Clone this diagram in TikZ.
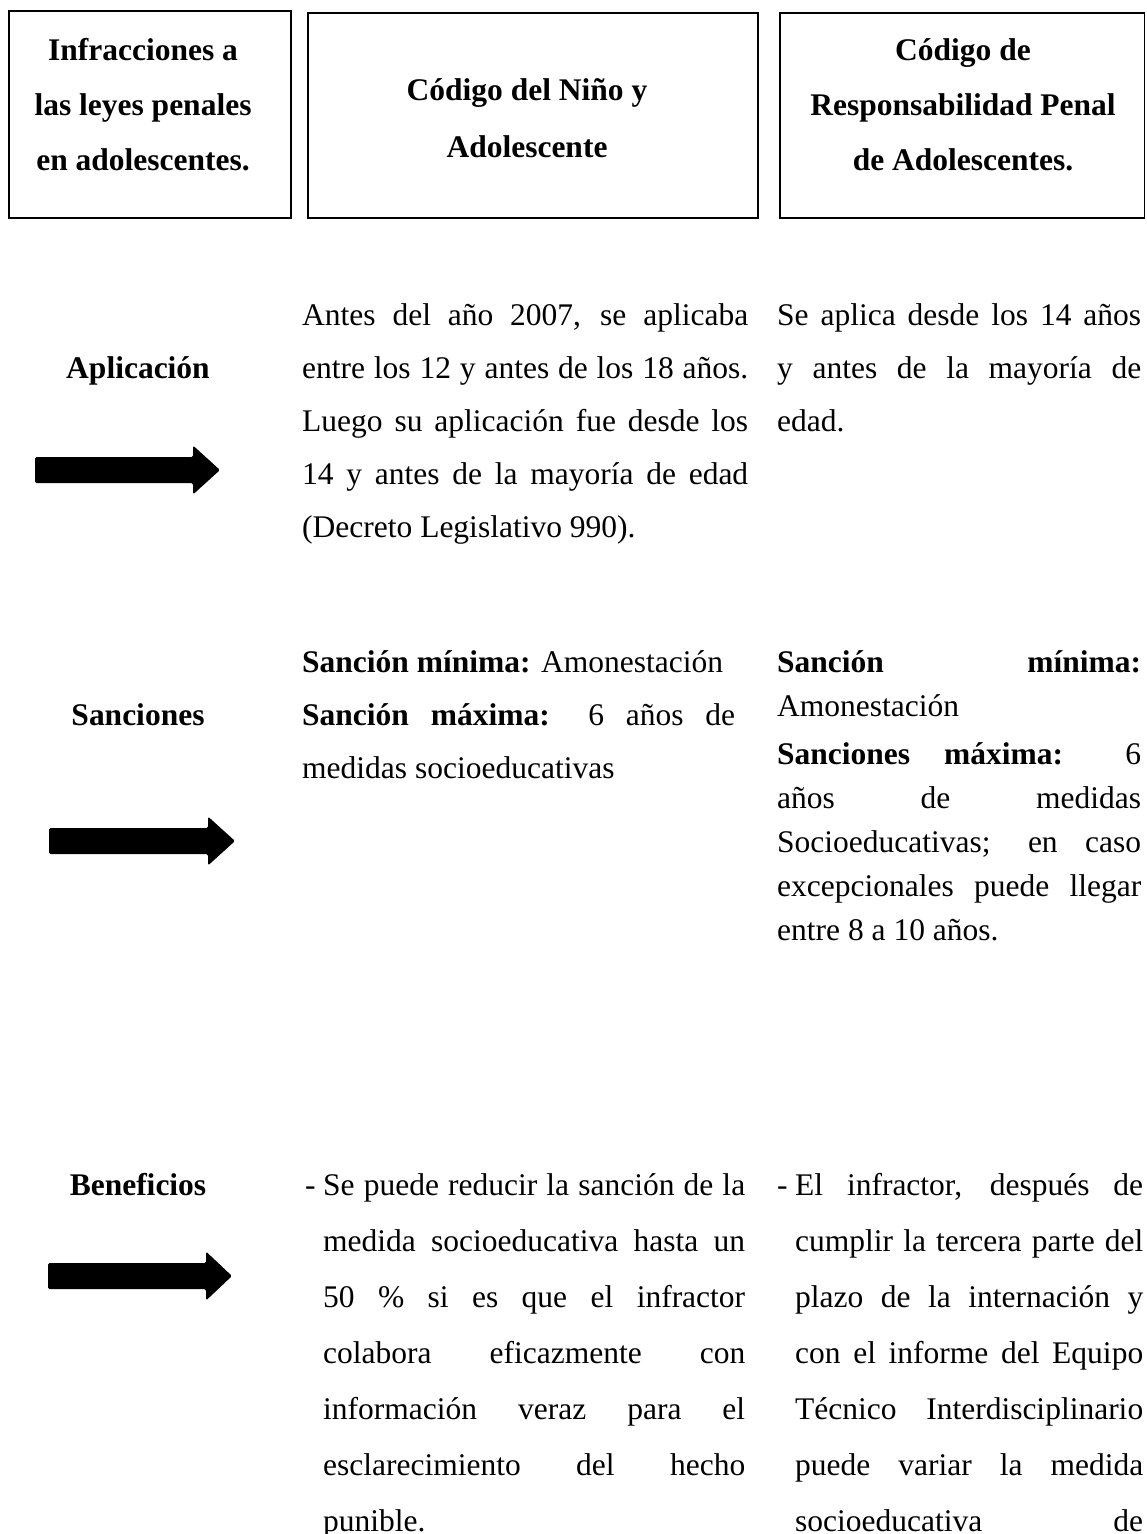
\documentclass[tikz,border=0pt]{standalone}
\usepackage{fontspec}
\setmainfont{Liberation Serif}
\newcommand\myjust[2]{\hbox to #1{#2}}
\newcommand\myleft[2]{\hbox to #1{#2\hfil}}
\newcommand\mycen[1]{\hbox to 360pt{\hss #1\hss}}
\newcommand\bigarrow[4]{%
  \fill[rounded corners=1.5pt] (#1,#4-13) -- (#2,#4-13) -- (#2,#4-24.5) -- (#3,#4) -- (#2,#4+24.5) -- (#2,#4+13) -- (#1,#4+13) -- cycle;}
\begin{document}
\begin{tikzpicture}[x=1pt,y=-1pt,
  every node/.style={inner sep=0pt, font=\fontsize{31.5}{53}\selectfont},
  headbox/.style={draw, line width=1.2pt},
  headtext/.style={anchor=base, font=\fontsize{31.5}{55}\selectfont\bfseries},
  lab/.style={anchor=base, font=\fontsize{31.5}{53}\selectfont\bfseries},
  body/.style={anchor=base west}]
\useasboundingbox (0,0) rectangle (1146,1534);
\fill[white] (0,0) rectangle (1146,1534);

% header boxes
\draw[headbox] (9,11) rectangle (291,218);
\draw[headbox] (308,13) rectangle (758,218);
\draw[headbox] (780,13) rectangle (1144.5,218);
\node[headtext] (h1) at (143,60) {\vtop{\baselineskip=55pt\lineskiplimit=-1000pt
  \mycen{Infracciones a}\mycen{las leyes penales}\mycen{en adolescentes.}}};
\node[headtext] (h2) at (527,100) {\vtop{\baselineskip=57pt\lineskiplimit=-1000pt
  \mycen{Código del Niño y}\mycen{Adolescente}}};
\node[headtext] (h3) at (963,60) {\vtop{\baselineskip=55pt\lineskiplimit=-1000pt
  \mycen{Código de}\mycen{Responsabilidad Penal}\mycen{de Adolescentes.}}};

% row labels
\node[lab] (lap) at (138,378) {Aplicación};
\node[lab] (lsa) at (138,725) {Sanciones};
\node[lab] (lbe) at (138,1195) {Beneficios};

% arrows
\bigarrow{35}{193}{220}{470}
\bigarrow{49}{208}{235}{841}
\bigarrow{48}{206}{232}{1276}

% Aplicacion
\node[body] (apm) at (302,325) {\vtop{\baselineskip=53pt\lineskiplimit=-1000pt
  \myjust{446pt}{Antes del año 2007, se aplicaba}
  \myjust{446pt}{entre los 12 y antes de los 18 años.}
  \myjust{446pt}{Luego su aplicación fue desde los}
  \myjust{446pt}{14 y antes de la mayoría de edad}
  \myleft{446pt}{(Decreto Legislativo 990).}}};
\node[body] (apr) at (777,325) {\vtop{\baselineskip=53pt\lineskiplimit=-1000pt
  \myjust{364pt}{Se aplica desde los 14 años}
  \myjust{364pt}{y antes de la mayoría de}
  \myleft{364pt}{edad.}}};

% Sanciones
\node[body] (sam) at (302,672) {\vtop{\baselineskip=53pt\lineskiplimit=-1000pt
  \myleft{433pt}{\textbf{Sanción mínima:} Amonestación}
  \myjust{433pt}{\textbf{Sanción máxima:} 6 años de}
  \myleft{433pt}{medidas socioeducativas}}};
\node[body] (sar) at (777,672) {\vtop{\baselineskip=44pt\lineskiplimit=-1000pt
  \myjust{364pt}{\textbf{Sanción mínima:}}
  \myleft{364pt}{Amonestación}\vskip4pt
  \myjust{364pt}{\textbf{Sanciones máxima:} 6}
  \myjust{364pt}{años de medidas}
  \myjust{364pt}{Socioeducativas; en caso}
  \myjust{364pt}{excepcionales puede llegar}
  \myleft{364pt}{entre 8 a 10 años.}}};

% Beneficios
\node[body] (bed1) at (305,1195) {-};
\node[body] (bem) at (323,1195) {\vtop{\baselineskip=56pt\lineskiplimit=-1000pt
  \myjust{422pt}{Se puede reducir la sanción de la}
  \myjust{422pt}{medida socioeducativa hasta un}
  \myjust{422pt}{50 \% si es que el infractor}
  \myjust{422pt}{colabora eficazmente con}
  \myjust{422pt}{información veraz para el}
  \myjust{422pt}{esclarecimiento del hecho}
  \myleft{422pt}{punible.}}};
\node[body] (bed2) at (777,1195) {-};
\node[body] (ber) at (795,1195) {\vtop{\baselineskip=56pt\lineskiplimit=-1000pt
  \myjust{348pt}{El infractor, después de}
  \myjust{348pt}{cumplir la tercera parte del}
  \myjust{348pt}{plazo de la internación y}
  \myjust{348pt}{con el informe del Equipo}
  \myjust{348pt}{Técnico Interdisciplinario}
  \myjust{348pt}{puede variar la medida}
  \myjust{348pt}{socioeducativa de}}};
\end{tikzpicture}
\end{document}
